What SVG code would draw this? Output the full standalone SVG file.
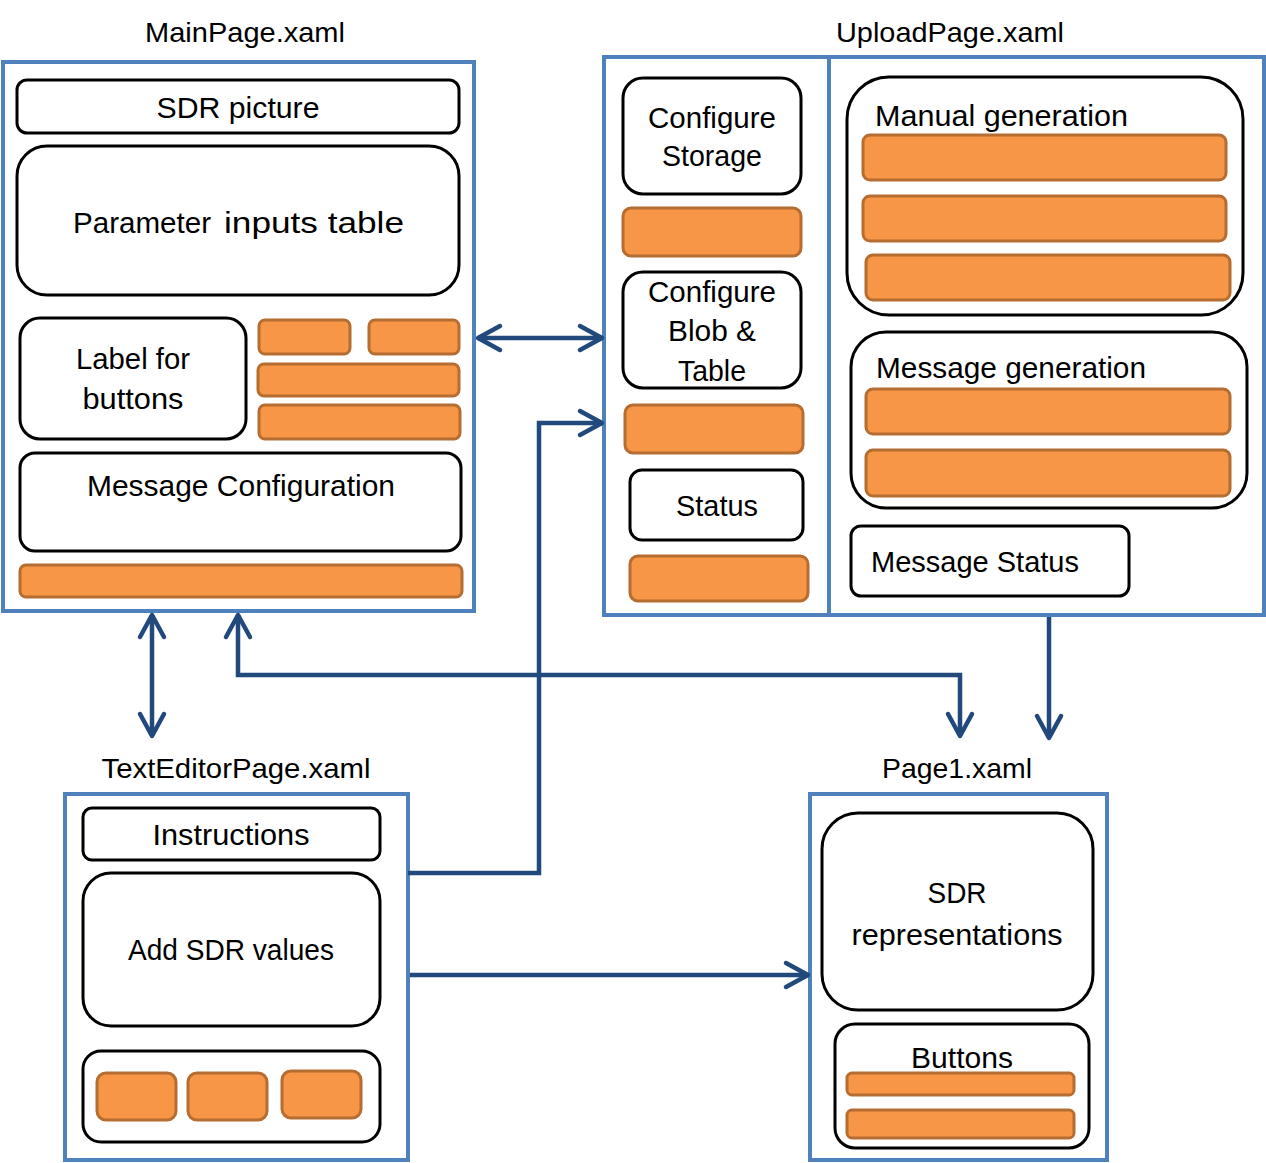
<svg xmlns="http://www.w3.org/2000/svg" width="1266" height="1163" viewBox="0 0 1266 1163">
<defs>
<style>
text{font-family:"Liberation Sans",Arial,sans-serif;font-size:29px;fill:#000;}
.c{text-anchor:middle;}
.frame{fill:#fff;stroke:#4F81BD;stroke-width:4;}
.box{fill:#fff;stroke:#000;stroke-width:3;}
.btn{fill:#F79646;stroke:#B66D31;stroke-width:3;}
.title{font-size:28px;}
.conn{fill:none;stroke:#22497C;stroke-width:4.5;}
</style>
<marker id="arr" markerUnits="userSpaceOnUse" markerWidth="30" markerHeight="34" viewBox="0 0 30 34" refX="26" refY="17" orient="auto-start-reverse" overflow="visible">
<path d="M4,5 L26,17 L4,29" fill="none" stroke="#22497C" stroke-width="4.5" stroke-linecap="round" stroke-linejoin="round"/>
</marker>
</defs>
<rect width="1266" height="1163" fill="#fff"/>

<g id="mainpage">
<text class="c title" x="245" y="42" textLength="200" lengthAdjust="spacingAndGlyphs">MainPage.xaml</text>
<rect class="frame" x="3" y="62" width="471" height="549"/>
<rect class="box" x="17" y="80" width="442" height="53" rx="10"/>
<text class="c" x="238" y="118" font-size="30" textLength="163" lengthAdjust="spacingAndGlyphs">SDR picture</text>
<rect class="box" x="17" y="146" width="442" height="149" rx="30"/>
<text x="73" y="233" font-size="27" textLength="138" lengthAdjust="spacingAndGlyphs">Parameter</text>
<text x="224" y="233" font-size="32" textLength="180" lengthAdjust="spacingAndGlyphs">inputs table</text>
<rect class="box" x="20" y="318" width="226" height="121" rx="20"/>
<text class="c" x="133" y="369" textLength="114" lengthAdjust="spacingAndGlyphs">Label for</text>
<text class="c" x="133" y="409" textLength="101" lengthAdjust="spacingAndGlyphs">buttons</text>
<rect class="btn" x="259" y="320" width="91" height="34" rx="6"/>
<rect class="btn" x="369" y="320" width="90" height="34" rx="6"/>
<rect class="btn" x="258" y="364" width="201" height="32" rx="6"/>
<rect class="btn" x="259" y="405" width="201" height="34" rx="6"/>
<rect class="box" x="20" y="453" width="441" height="98" rx="15"/>
<text class="c" x="241" y="496" textLength="308" lengthAdjust="spacingAndGlyphs">Message Configuration</text>
<rect class="btn" x="20" y="565" width="442" height="32" rx="6"/>
</g>

<g id="uploadpage">
<text class="c title" x="950" y="42" textLength="228" lengthAdjust="spacingAndGlyphs">UploadPage.xaml</text>
<rect class="frame" x="604" y="57" width="660" height="558"/>
<line x1="829" y1="57" x2="829" y2="615" stroke="#4F81BD" stroke-width="4"/>
<rect class="box" x="623" y="78" width="178" height="116" rx="20"/>
<text class="c" x="712" y="128" textLength="128" lengthAdjust="spacingAndGlyphs">Configure</text>
<text class="c" x="712" y="166" textLength="100" lengthAdjust="spacingAndGlyphs">Storage</text>
<rect class="btn" x="623" y="208" width="178" height="48" rx="8"/>
<rect class="box" x="623" y="272" width="178" height="116" rx="20"/>
<text class="c" x="712" y="302" textLength="128" lengthAdjust="spacingAndGlyphs">Configure</text>
<text class="c" x="712" y="341" textLength="88" lengthAdjust="spacingAndGlyphs">Blob &amp;</text>
<text class="c" x="712" y="381" textLength="68" lengthAdjust="spacingAndGlyphs">Table</text>
<rect class="btn" x="625" y="405" width="178" height="48" rx="8"/>
<rect class="box" x="630" y="470" width="173" height="70" rx="12"/>
<text class="c" x="717" y="516" textLength="82" lengthAdjust="spacingAndGlyphs">Status</text>
<rect class="btn" x="630" y="556" width="178" height="45" rx="8"/>
<rect class="box" x="847" y="77" width="396" height="238" rx="42"/>
<text x="875" y="126" textLength="253" lengthAdjust="spacingAndGlyphs">Manual generation</text>
<rect class="btn" x="863" y="135" width="363" height="45" rx="7"/>
<rect class="btn" x="863" y="196" width="363" height="45" rx="7"/>
<rect class="btn" x="866" y="255" width="364" height="45" rx="7"/>
<rect class="box" x="851" y="332" width="396" height="176" rx="35"/>
<text x="876" y="378" textLength="270" lengthAdjust="spacingAndGlyphs">Message generation</text>
<rect class="btn" x="866" y="389" width="364" height="45" rx="7"/>
<rect class="btn" x="866" y="450" width="364" height="46" rx="7"/>
<rect class="box" x="851" y="526" width="278" height="70" rx="10"/>
<text x="871" y="572" textLength="208" lengthAdjust="spacingAndGlyphs">Message Status</text>
</g>

<g id="texteditorpage">
<text class="c title" x="236" y="778" textLength="269" lengthAdjust="spacingAndGlyphs">TextEditorPage.xaml</text>
<rect class="frame" x="65" y="794" width="343" height="366"/>
<rect class="box" x="83" y="808" width="297" height="52" rx="9"/>
<text class="c" x="231" y="845" textLength="157" lengthAdjust="spacingAndGlyphs">Instructions</text>
<rect class="box" x="83" y="873" width="297" height="153" rx="28"/>
<text class="c" x="231" y="960" textLength="206" lengthAdjust="spacingAndGlyphs">Add SDR values</text>
<rect class="box" x="83" y="1051" width="297" height="91" rx="18"/>
<rect class="btn" x="97" y="1073" width="79" height="47" rx="9"/>
<rect class="btn" x="188" y="1073" width="79" height="47" rx="9"/>
<rect class="btn" x="282" y="1071" width="79" height="47" rx="9"/>
</g>

<g id="page1">
<text class="c title" x="957" y="778" textLength="150" lengthAdjust="spacingAndGlyphs">Page1.xaml</text>
<rect class="frame" x="810" y="794" width="297" height="366"/>
<rect class="box" x="822" y="813" width="271" height="197" rx="36"/>
<text class="c" x="957" y="903" textLength="59" lengthAdjust="spacingAndGlyphs">SDR</text>
<text class="c" x="957" y="945" textLength="211" lengthAdjust="spacingAndGlyphs">representations</text>
<rect class="box" x="835" y="1024" width="254" height="124" rx="20"/>
<text class="c" x="962" y="1068" textLength="102" lengthAdjust="spacingAndGlyphs">Buttons</text>
<rect class="btn" x="847" y="1073" width="227" height="22" rx="5"/>
<rect class="btn" x="847" y="1110" width="227" height="28" rx="5"/>
</g>

<g id="connectors">
<path class="conn" d="M478,338 H602" marker-start="url(#arr)" marker-end="url(#arr)"/>
<path class="conn" d="M408,873 H539 V423 H602" marker-end="url(#arr)"/>
<path class="conn" d="M152,615 V736" marker-start="url(#arr)" marker-end="url(#arr)"/>
<path class="conn" d="M238,615 V675 H960 V736" marker-start="url(#arr)" marker-end="url(#arr)"/>
<path class="conn" d="M1049,617 V738" marker-end="url(#arr)"/>
<path class="conn" d="M410,975 H808" marker-end="url(#arr)"/>
</g>
</svg>
